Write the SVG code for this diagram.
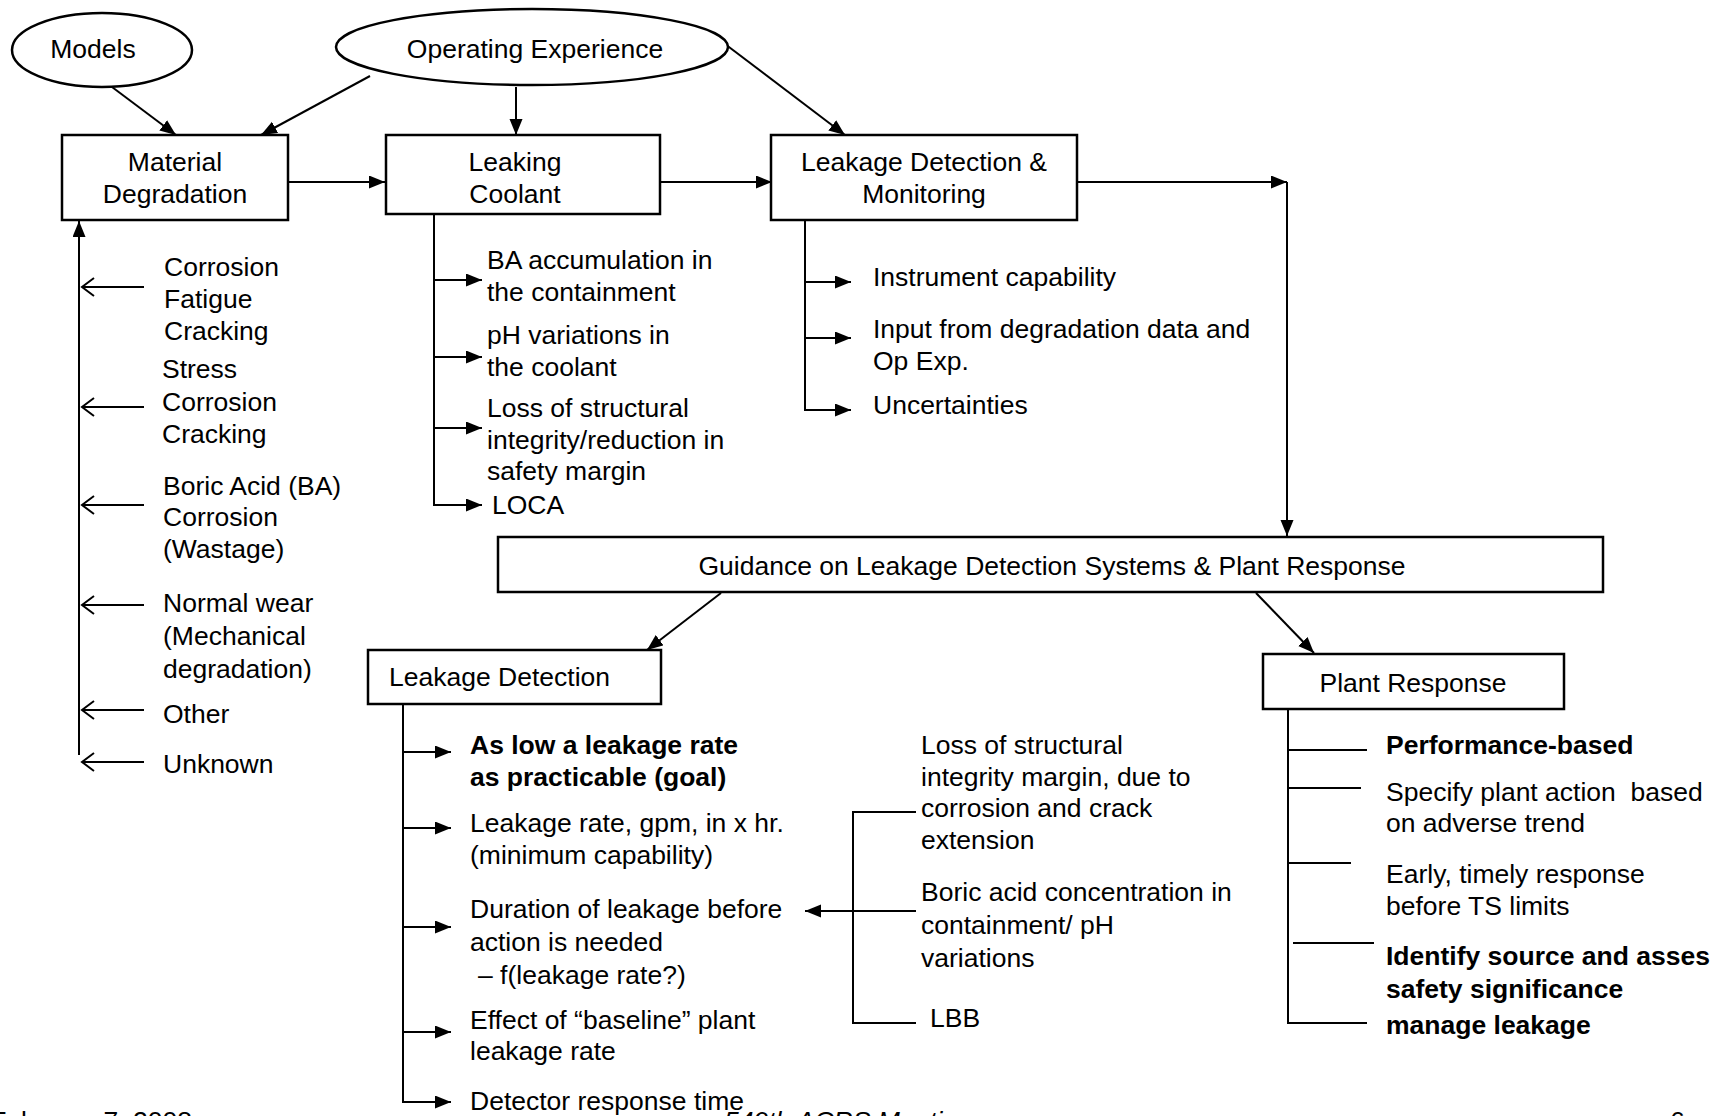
<svg xmlns="http://www.w3.org/2000/svg" width="1719" height="1116" viewBox="0 0 1719 1116">
<defs>
<style>
text{font-family:"Liberation Sans",Arial,sans-serif;font-size:26.5px;fill:#000}
.b{font-weight:bold}
.c{text-anchor:middle}
.box{fill:#fff;stroke:#000;stroke-width:2.5}
.ln{fill:none;stroke:#000;stroke-width:2}
.fa{marker-end:url(#fa)}
.oa{marker-end:url(#oa)}
</style>
<marker id="fa" markerUnits="userSpaceOnUse" markerWidth="18" markerHeight="14" refX="16" refY="6.5" orient="auto">
<path d="M0,0 L16,6.5 L0,13 z" fill="#000"/>
</marker>
<marker id="oa" markerUnits="userSpaceOnUse" markerWidth="16" markerHeight="22" refX="14" refY="10" orient="auto">
<path d="M2,1 L14,10 L2,19" fill="none" stroke="#000" stroke-width="2"/>
</marker>
</defs>
<rect width="1719" height="1116" fill="#fff"/>

<g id="connectors">
<line class="ln fa" x1="112" y1="87" x2="176" y2="135"/>
<line class="ln fa" x1="370" y1="76" x2="261" y2="135"/>
<line class="ln fa" x1="516" y1="87" x2="516" y2="135"/>
<line class="ln fa" x1="725" y1="44" x2="845" y2="135"/>
<line class="ln fa" x1="288" y1="182" x2="385" y2="182"/>
<line class="ln fa" x1="660" y1="182" x2="772" y2="182"/>
<line class="ln fa" x1="1077" y1="182" x2="1287" y2="182"/>
<line class="ln fa" x1="1287" y1="182" x2="1287" y2="536"/>
<line class="ln fa" x1="721" y1="593" x2="647" y2="650"/>
<line class="ln fa" x1="1256" y1="593" x2="1314" y2="653"/>
<!-- Material degradation feedback -->
<line class="ln fa" x1="79" y1="755" x2="79" y2="221"/>
<line class="ln oa" x1="144" y1="287" x2="82" y2="287"/>
<line class="ln oa" x1="144" y1="407" x2="82" y2="407"/>
<line class="ln oa" x1="144" y1="505" x2="82" y2="505"/>
<line class="ln oa" x1="144" y1="605" x2="82" y2="605"/>
<line class="ln oa" x1="144" y1="710" x2="82" y2="710"/>
<line class="ln oa" x1="144" y1="762" x2="82" y2="762"/>
<!-- Leaking coolant branches -->
<polyline class="ln" points="434,215 434,505"/>
<line class="ln fa" x1="434" y1="280" x2="482" y2="280"/>
<line class="ln fa" x1="434" y1="357" x2="482" y2="357"/>
<line class="ln fa" x1="434" y1="428" x2="482" y2="428"/>
<line class="ln fa" x1="433" y1="505" x2="482" y2="505"/>
<!-- LDM branches -->
<polyline class="ln" points="805,215 805,410"/>
<line class="ln fa" x1="805" y1="282" x2="851" y2="282"/>
<line class="ln fa" x1="805" y1="338" x2="851" y2="338"/>
<line class="ln fa" x1="804" y1="410" x2="851" y2="410"/>
<!-- Leakage detection branches -->
<polyline class="ln" points="403,704 403,1102"/>
<line class="ln fa" x1="403" y1="752" x2="451" y2="752"/>
<line class="ln fa" x1="403" y1="828" x2="451" y2="828"/>
<line class="ln fa" x1="403" y1="927" x2="451" y2="927"/>
<line class="ln fa" x1="403" y1="1032" x2="451" y2="1032"/>
<line class="ln fa" x1="402" y1="1102" x2="451" y2="1102"/>
<!-- bracket -->
<polyline class="ln" points="916,812 853,812 853,1023 916,1023"/>
<line class="ln fa" x1="916" y1="911" x2="805" y2="911"/>
<!-- Plant response branches -->
<polyline class="ln" points="1288,709 1288,1023"/>
<line class="ln" x1="1288" y1="750" x2="1367" y2="750" stroke-width="2.5"/>
<line class="ln" x1="1288" y1="788" x2="1361" y2="788"/>
<line class="ln" x1="1288" y1="863" x2="1351" y2="863"/>
<line class="ln" x1="1293" y1="943" x2="1374" y2="943" stroke-width="2.5"/>
<line class="ln" x1="1287" y1="1023" x2="1367" y2="1023" stroke-width="2.5"/>
</g>

<g id="models">
<ellipse class="box" cx="102" cy="50" rx="90" ry="37" stroke-width="2"/>
<text class="c" x="93" y="58">Models</text>
</g>
<g id="operating-experience">
<ellipse class="box" cx="532" cy="47" rx="196" ry="38" stroke-width="2"/>
<text class="c" x="535" y="58">Operating Experience</text>
</g>
<g id="material-degradation">
<rect class="box" x="62" y="135" width="226" height="85"/>
<text class="c" x="175" y="171">Material</text>
<text class="c" x="175" y="203">Degradation</text>
</g>
<g id="leaking-coolant">
<rect class="box" x="386" y="135" width="274" height="79"/>
<text class="c" x="515" y="171">Leaking</text>
<text class="c" x="515" y="203">Coolant</text>
</g>
<g id="leakage-detection-monitoring">
<rect class="box" x="771" y="135" width="306" height="85"/>
<text class="c" x="924" y="171">Leakage Detection &amp;</text>
<text class="c" x="924" y="203">Monitoring</text>
</g>
<g id="guidance">
<rect class="box" x="498" y="537" width="1105" height="55"/>
<text class="c" x="1052" y="575">Guidance on Leakage Detection Systems &amp; Plant Response</text>
</g>
<g id="leakage-detection">
<rect class="box" x="368" y="650" width="293" height="54"/>
<text x="389" y="686">Leakage Detection</text>
</g>
<g id="plant-response">
<rect class="box" x="1263" y="654" width="301" height="55"/>
<text class="c" x="1413" y="692">Plant Response</text>
</g>

<g id="degradation-mechanisms">
<text x="164" y="276">Corrosion</text>
<text x="164" y="308">Fatigue</text>
<text x="164" y="340">Cracking</text>
<text x="162" y="378">Stress</text>
<text x="162" y="411">Corrosion</text>
<text x="162" y="443">Cracking</text>
<text x="163" y="495">Boric Acid (BA)</text>
<text x="163" y="526">Corrosion</text>
<text x="163" y="558">(Wastage)</text>
<text x="163" y="612">Normal wear</text>
<text x="163" y="645">(Mechanical</text>
<text x="163" y="678">degradation)</text>
<text x="163" y="723">Other</text>
<text x="163" y="773">Unknown</text>
</g>

<g id="coolant-effects">
<text x="487" y="269">BA accumulation in</text>
<text x="487" y="301">the containment</text>
<text x="487" y="344">pH variations in</text>
<text x="487" y="376">the coolant</text>
<text x="487" y="417">Loss of structural</text>
<text x="487" y="449">integrity/reduction in</text>
<text x="487" y="480">safety margin</text>
<text x="492" y="514">LOCA</text>
</g>

<g id="monitoring-items">
<text x="873" y="286">Instrument capability</text>
<text x="873" y="338">Input from degradation data and</text>
<text x="873" y="370">Op Exp.</text>
<text x="873" y="414">Uncertainties</text>
</g>

<g id="detection-items">
<text class="b" x="470" y="754">As low a leakage rate</text>
<text class="b" x="470" y="786">as practicable (goal)</text>
<text x="470" y="832">Leakage rate, gpm, in x hr.</text>
<text x="470" y="864">(minimum capability)</text>
<text x="470" y="918">Duration of leakage before</text>
<text x="470" y="951">action is needed</text>
<text x="478" y="984">– f(leakage rate?)</text>
<text x="470" y="1029">Effect of “baseline” plant</text>
<text x="470" y="1060">leakage rate</text>
<text x="470" y="1110">Detector response time</text>
</g>

<g id="duration-factors">
<text x="921" y="754">Loss of structural</text>
<text x="921" y="786">integrity margin, due to</text>
<text x="921" y="817">corrosion and crack</text>
<text x="921" y="849">extension</text>
<text x="921" y="901">Boric acid concentration in</text>
<text x="921" y="934">containment/ pH</text>
<text x="921" y="967">variations</text>
<text x="930" y="1027">LBB</text>
</g>

<g id="response-items">
<text class="b" x="1386" y="754">Performance-based</text>
<text x="1386" y="801">Specify plant action&#160; based</text>
<text x="1386" y="832">on adverse trend</text>
<text x="1386" y="883">Early, timely response</text>
<text x="1386" y="915">before TS limits</text>
<text class="b" x="1386" y="965">Identify source and asses</text>
<text class="b" x="1386" y="998">safety significance</text>
<text class="b" x="1386" y="1034">manage leakage</text>
</g>

<g id="footer">
<text x="192" y="1130" style="text-anchor:end">February 7, 2008</text>
<text x="724" y="1130" style="font-style:italic">549th ACRS Meeting</text>
<text x="1670" y="1130">6</text>
</g>
</svg>
